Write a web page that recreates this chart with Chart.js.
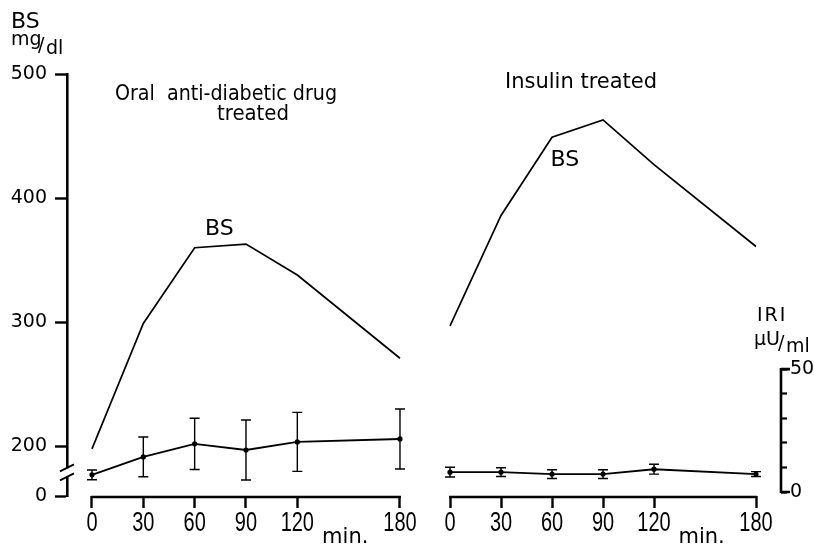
<!DOCTYPE html>
<html>
<head>
<meta charset="utf-8">
<script src="https://cdn.jsdelivr.net/npm/chart.js@4.4.1/dist/chart.umd.min.js"></script>
<style>
  html, body { margin: 0; padding: 0; background: #fff; }
  #wrap { position: relative; width: 814px; height: 546px; overflow: hidden; }
  #oral { position: absolute; left: 0; top: 0; }
  #insulin { position: absolute; left: 430px; top: 0; }
</style>
</head>
<body>
<div id="wrap">
  <canvas id="oral" width="430" height="546"></canvas>
  <canvas id="insulin" width="384" height="546"></canvas>
</div>
<script>
// Sampling times after the glucose load (min)
const minutes = [0, 30, 60, 90, 120, 180];
const timeTicks = [0, 30, 60, 90, 120, 180];

// Oral anti-diabetic drug group
const bsOral = [198, 299, 360, 363, 338, 271];          // blood sugar, mg/dl
const iriOral = [7.0, 14.3, 19.6, 17.1, 20.4, 21.6];    // immunoreactive insulin, µU/ml
const iriOralErr = [2.0, 8.1, 10.4, 12.2, 12.0, 12.2];

// Insulin treated group
const bsInsulin = [297, 386, 449, 463, 427, 361];
const iriInsulin = [8.1, 8.1, 7.3, 7.3, 9.3, 7.3];
const iriInsulinErr = [2.0, 1.8, 1.8, 1.8, 2.0, 1.0];

// Blood sugar axis is broken: its foot (160) stands for 0
const bsFloor = 160;
const bsTickValues = [160, 200, 300, 400, 500];
const bsTickLabels = ['0', '200', '300', '400', '500'];
const iriTickValues = [0, 10, 20, 30, 40, 50];
const iriTickLabels = ['0', '', '', '', '', '50'];

Chart.defaults.font.family = "'DejaVu Sans', sans-serif";
Chart.defaults.color = '#000';

const AXIS_FONT = { family: "'DejaVu Sans', sans-serif", size: 19 };

const pts = (ys) => minutes.map((m, i) => ({ x: m, y: ys[i] }));

// Vertical error bars with caps, read from dataset.errors
const errorBars = {
  id: 'errorBars',
  afterDatasetsDraw(chart) {
    const ctx = chart.ctx;
    chart.data.datasets.forEach((ds, di) => {
      if (!ds.errors) return;
      const meta = chart.getDatasetMeta(di);
      const ys = chart.scales[ds.yAxisID];
      ctx.save();
      ctx.strokeStyle = '#000';
      ctx.lineWidth = 1.4;
      meta.data.forEach((pt, i) => {
        const v = ds.data[i].y, e = ds.errors[i];
        const yT = ys.getPixelForValue(v + e), yB = ys.getPixelForValue(v - e);
        const x = pt.x;
        ctx.beginPath();
        ctx.moveTo(x, yT); ctx.lineTo(x, yB);
        ctx.moveTo(x - 5, yT); ctx.lineTo(x + 5, yT);
        ctx.moveTo(x - 5, yB); ctx.lineTo(x + 5, yB);
        ctx.stroke();
      });
      ctx.restore();
    });
  }
};

// Axis lines, narrow time labels, axis break and annotations for one panel
const panelDecor = {
  id: 'panelDecor',
  afterDraw(chart, args, opts) {
    const ctx = chart.ctx;
    const xs = chart.scales.x, bs = chart.scales.bs, iri = chart.scales.iri;
    const area = chart.chartArea;
    ctx.save();
    ctx.strokeStyle = '#000';
    ctx.fillStyle = '#000';
    ctx.lineCap = 'butt';

    // time axis runs only from 0 to 180 min
    ctx.lineWidth = 2.6;
    ctx.beginPath();
    ctx.moveTo(xs.getPixelForValue(timeTicks[0]) - 1, area.bottom + 1);
    ctx.lineTo(xs.getPixelForValue(timeTicks[timeTicks.length - 1]) + 1, area.bottom + 1);
    ctx.stroke();

    // condensed time labels
    ctx.font = "27px 'Liberation Sans', 'DejaVu Sans', sans-serif";
    ctx.textAlign = 'center';
    ctx.textBaseline = 'alphabetic';
    timeTicks.forEach(t => {
      const label = String(t);
      const w = ctx.measureText(label).width * 0.74;
      ctx.fillText(label, xs.getPixelForValue(t), area.bottom + 35, w);
    });

    // "min." under the axis
    ctx.font = "21px 'DejaVu Sans', sans-serif";
    ctx.fillText('min.', xs.getPixelForValue(148), 543);

    // BS curve label
    ctx.font = "22px 'DejaVu Sans', sans-serif";
    ctx.textBaseline = 'middle';
    ctx.fillText('BS', xs.getPixelForValue(opts.bsLabel[0]), bs.getPixelForValue(opts.bsLabel[1]));

    // panel title
    ctx.textAlign = 'left';
    ctx.textBaseline = 'alphabetic';
    ctx.font = "21px 'DejaVu Sans', sans-serif";
    opts.title.forEach(t => ctx.fillText(t.text, t.x, t.y, t.w));

    if (opts.bsAxis) {
      // break in the blood sugar axis
      const x = area.left, yc = bs.getPixelForValue(179);
      ctx.fillStyle = '#fff';
      ctx.fillRect(x - 3, yc - 4, 6, 8);
      ctx.lineWidth = 1.8;
      ctx.beginPath();
      ctx.moveTo(x - 7, yc - 1); ctx.lineTo(x + 7, yc - 8);
      ctx.moveTo(x - 7, yc + 8); ctx.lineTo(x + 7, yc + 1);
      ctx.stroke();
      // axis caption
      ctx.fillStyle = '#000';
      ctx.font = "22px 'DejaVu Sans', sans-serif";
      ctx.fillText('BS', 11, 28);
      ctx.font = "19px 'DejaVu Sans', sans-serif";
      ctx.fillText('mg', 11, 45);
      ctx.fillText('/', 38, 51);
      ctx.fillText('dl', 46, 54);
    }

    if (opts.iriAxis) {
      const x = area.right, y0 = iri.getPixelForValue(0), y50 = iri.getPixelForValue(50);
      ctx.lineWidth = 2.6;
      ctx.beginPath();
      ctx.moveTo(x, y50 - 1); ctx.lineTo(x, y0 + 1);
      ctx.moveTo(x, y50); ctx.lineTo(x + 9, y50);
      ctx.moveTo(x, y0); ctx.lineTo(x + 9, y0);
      ctx.stroke();
      ctx.font = "19px 'DejaVu Sans', sans-serif";
      ctx.letterSpacing = '2px';
      ctx.fillText('IRI', x - 24, 321);
      ctx.letterSpacing = '0px';
      ctx.fillText('\u00b5U', x - 27, 345);
      ctx.fillText('/', x - 3, 349);
      ctx.fillText('ml', x + 5, 352);
    }
    ctx.restore();
  }
};

function xAxis(min, max) {
  return {
    type: 'linear', position: 'bottom', min, max,
    afterBuildTicks: s => { s.ticks = timeTicks.map(v => ({ value: v })); },
    afterFit: s => { s.height = 50; },
    ticks: { display: false, autoSkip: false, maxRotation: 0 },
    grid: { drawOnChartArea: false, drawTicks: true, tickLength: 12, tickWidth: 2.4, tickColor: '#000' },
    border: { display: false }
  };
}

function bsAxis(show) {
  return {
    type: 'linear', position: 'left', min: bsFloor, max: 500, display: show,
    afterBuildTicks: s => { s.ticks = bsTickValues.map(v => ({ value: v })); },
    afterFit: s => { s.width = show ? 67 : 0; },
    ticks: { font: AXIS_FONT, color: '#000', padding: 8,
             callback: v => bsTickLabels[bsTickValues.indexOf(v)] },
    grid: { drawOnChartArea: false, drawTicks: true, tickLength: 12, tickWidth: 2.4, tickColor: '#000' },
    border: { display: true, color: '#000', width: 2.6 }
  };
}

function iriAxis(show) {
  return {
    type: 'linear', position: 'right', min: -1.6, max: 170, display: show,
    afterBuildTicks: s => { s.ticks = iriTickValues.map(v => ({ value: v })); },
    afterFit: s => { s.width = show ? 33 : 0; },
    ticks: { font: AXIS_FONT, color: '#000', padding: 3,
             callback: v => iriTickLabels[iriTickValues.indexOf(v)] },
    grid: { drawOnChartArea: false, drawTicks: true, tickLength: 6, tickWidth: 2.2, tickColor: '#000' },
    border: { display: false }
  };
}

function panel(id, bsData, iriData, iriErr, xr, pad, decor, showBs, showIri) {
  return new Chart(document.getElementById(id), {
    type: 'line',
    data: {
      datasets: [
        { label: 'BS', data: pts(bsData), yAxisID: 'bs', borderColor: '#000', borderWidth: 1.7,
          pointRadius: 0, tension: 0, fill: false },
        { label: 'IRI', data: pts(iriData), errors: iriErr, yAxisID: 'iri', borderColor: '#000',
          borderWidth: 1.9, pointRadius: 2.6, pointBackgroundColor: '#000', pointBorderWidth: 0,
          tension: 0, fill: false }
      ]
    },
    options: {
      responsive: false, animation: false, devicePixelRatio: 1,
      layout: { padding: pad },
      plugins: { legend: { display: false }, tooltip: { enabled: false }, panelDecor: decor },
      scales: { x: xAxis(xr[0], xr[1]), bs: bsAxis(showBs), iri: iriAxis(showIri) }
    },
    plugins: [errorBars, panelDecor]
  });
}

panel('oral', bsOral, iriOral, iriOralErr, [-14.6, 191.7],
  { top: 74, left: 0, right: 10, bottom: 0 },
  { bsAxis: true, iriAxis: false, bsLabel: [74.5, 375],
    title: [ { text: 'Oral  anti-diabetic drug', x: 115, y: 100, w: 222 },
             { text: 'treated', x: 217, y: 120, w: 72 } ] },
  true, false);

panel('insulin', bsInsulin, iriInsulin, iriInsulinErr, [-5.9, 194.7],
  { top: 74, left: 10, right: 0, bottom: 0 },
  { bsAxis: false, iriAxis: true, bsLabel: [67.6, 430.6],
    title: [ { text: 'Insulin treated', x: 75, y: 88, w: 157 } ] },
  false, true);
</script>
</body>
</html>
